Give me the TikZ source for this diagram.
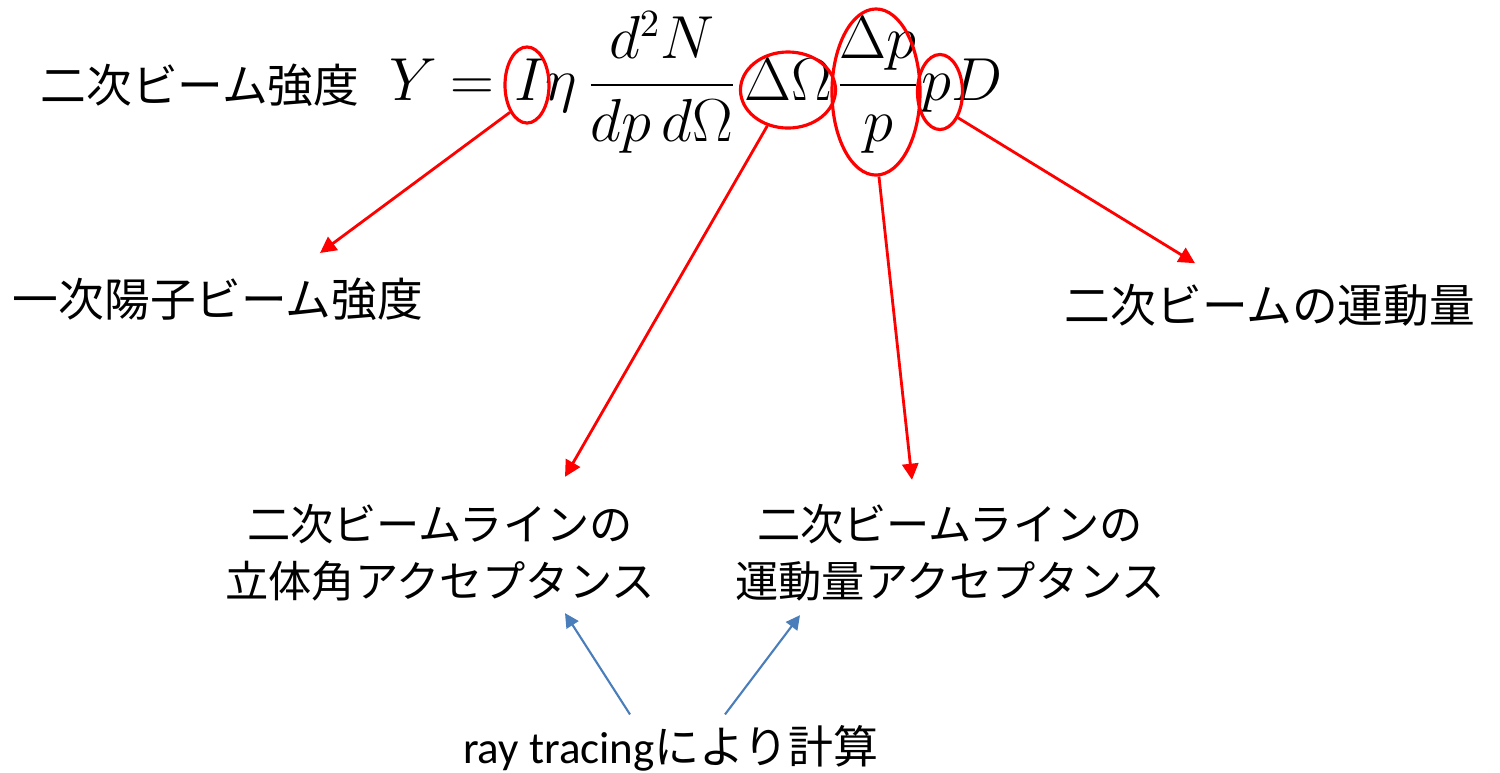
\documentclass[tikz,border=0pt]{standalone}
\usepackage{amsmath,amssymb}
\usepackage{fontspec}
\setmainfont{Carlito}
\newfontfamily\jp{Noto Sans CJK JP}
\usepackage{tikz}
\usetikzlibrary{positioning, arrows.meta, shapes.geometric, calc}
\usepackage{xcolor}
\definecolor{rouge}{RGB}{255,0,0}
\definecolor{bleu}{RGB}{74,126,187}

\begin{document}
\begin{tikzpicture}[x=0.01cm, y=-0.01cm,
    jtxt/.style={inner sep=0pt, font=\jp\fontsize{13}{16}\selectfont},
    jbloc/.style={inner sep=0pt, align=center, font=\jp\fontsize{12.3}{16.2}\selectfont},
    terme/.style={inner sep=0pt, anchor=base, font=\fontsize{16}{19}\selectfont},
    ovale/.style={draw=rouge, line width=0.9pt, ellipse, inner sep=0pt},
    fleche/.style={draw=rouge, line width=0.8pt, -{Triangle[length=4.6pt, width=4.6pt]}},
    trace/.style={draw=bleu, line width=0.6pt, -{Triangle[length=4pt, width=4pt]}}]
    \useasboundingbox (0,0) rectangle (1500,772);
    % Intensite du faisceau secondaire
    \node[jtxt] (nomY) at (200,85) {二次ビーム強度};
    \node[terme] (Y) at (413,100) {$Y$};
    \node[terme] (egal) at (472,100) {$=$};
    \node[terme] (Ieta) at (546,100) {$I\eta$};
    \node[terme] (frac1) at (662,100) {$\displaystyle\frac{d^2N}{dp\,d\Omega}$};
    \node[terme] (dOm) at (788,100) {$\Delta\Omega$};
    \node[terme] (frac2) at (878,100) {$\displaystyle\frac{\Delta p}{p}$};
    \node[terme] (pD) at (962,100) {$pD$};
    % ellipses
    \node[ovale, minimum width=0.44cm, minimum height=0.76cm] (eI) at (527,85) {};
    \node[ovale, minimum width=0.95cm, minimum height=0.76cm] (eOm) at (788,90) {};
    \node[ovale, minimum width=0.88cm, minimum height=1.66cm] (eDp) at (876,92) {};
    \node[ovale, minimum width=0.45cm, minimum height=0.75cm] (ep) at (940,92) {};
    % etiquettes
    \node[jtxt] (prim) at (218,299) {一次陽子ビーム強度};
    \node[jtxt] (mom) at (1270,305) {二次ビームの運動量};
    \node[jbloc] (angle) at (440,553) {二次ビームラインの\\立体角アクセプタンス};
    \node[jbloc] (accep) at (950,553) {二次ビームラインの\\運動量アクセプタンス};
    \node[inner sep=0pt, font=\fontsize{12.8}{15}\selectfont] (ray) at (671,748) {ray tracing{\jp により計算}};
    % fleches
    \draw[fleche] (eI.238) -- ($(prim.north)+(102,-24)$);
    \draw[fleche] (eOm.240) -- ($(angle.north)+(125,-27)$);
    \draw[fleche] (eDp.272) -- ($(accep.north)+(-38,-24)$);
    \draw[fleche] (ep.305) -- ($(mom.north)+(-75,-20)$);
    \draw[trace] ($(ray.north)+(-41,-10)$) -- ($(angle.south)+(125,11)$);
    \draw[trace] ($(ray.north)+(54,-10)$) -- ($(accep.south)+(-150,13)$);
\end{tikzpicture}
\end{document}
